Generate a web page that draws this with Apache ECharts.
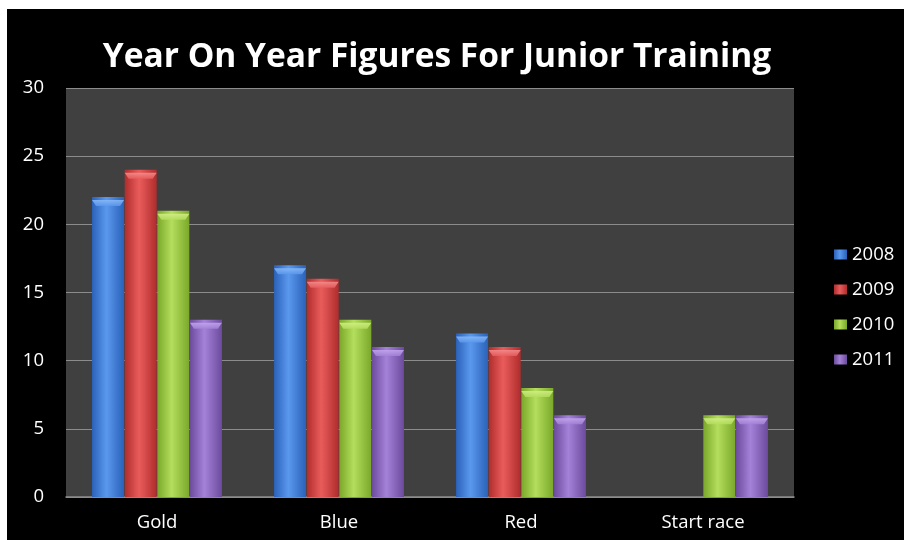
<!DOCTYPE html>
<html>
<head>
<meta charset="utf-8">
<script src="https://cdn.jsdelivr.net/npm/echarts@6/dist/echarts.min.js"></script>
<style>
html,body{margin:0;padding:0;background:#ffffff;}
#wrap{position:absolute;left:7px;top:9px;width:897px;height:531px;background:#000;}
#chart{position:absolute;left:0;top:0;width:897px;height:531px;}
</style>
</head>
<body>
<div id="wrap"><div id="chart"></div></div>
<script>
const categories = ['Gold', 'Blue', 'Red', 'Start race'];
const seriesNames = ['2008', '2009', '2010', '2011'];
const values2008 = [22, 17, 12, 0];
const values2009 = [24, 16, 11, 0];
const values2010 = [21, 13, 8, 6];
const values2011 = [13, 11, 6, 6];
const yTicks = [0, 5, 10, 15, 20, 25, 30];

const palettes = [
  ['#2a62b8', '#5a98ee', '#2a62b8', '#8cbcf8'],
  ['#b02c2c', '#ea5c5c', '#b02c2c', '#f49090'],
  ['#7aa82a', '#b4de5c', '#7aa82a', '#d4f08a'],
  ['#6c4a9c', '#a482d8', '#6c4a9c', '#c4a8ee']
];
const allValues = [values2008, values2009, values2010, values2011];

function grad(p) {
  return new echarts.graphic.LinearGradient(0, 0, 1, 0, [
    {offset: 0, color: p[0]},
    {offset: 0.45, color: p[1]},
    {offset: 1, color: p[2]}
  ]);
}
function capGrad(p) {
  return new echarts.graphic.LinearGradient(0, 0, 0, 1, [
    {offset: 0, color: p[3]},
    {offset: 1, color: p[1]}
  ]);
}

const barSeries = seriesNames.map((n, i) => ({
  name: n, type: 'bar', data: allValues[i],
  barWidth: 32, barGap: '2%',
  itemStyle: {color: grad(palettes[i])}
}));
const capSeries = seriesNames.map((n, i) => ({
  name: n, type: 'pictorialBar',
  data: allValues[i].map(v => v > 0 ? v : '-'),
  barWidth: 32, barGap: '2%',
  symbol: 'path://M0,0 L32,0 L28,6 L4,6 Z',
  symbolSize: [32, 6], symbolPosition: 'end', symbolOffset: [0, '50%'],
  itemStyle: {color: capGrad(palettes[i]), opacity: 0.85},
  z: 3, silent: true
}));

const chart = echarts.init(document.getElementById('chart'));
chart.setOption({
  backgroundColor: '#000000',
  animation: false,
  color: palettes.map(p => p[1]),
  title: {
    text: 'Year On Year Figures For Junior Training',
    left: 425, top: 26, textAlign: 'center',
    textStyle: {color: '#ffffff', fontFamily: 'Open Sans', fontWeight: 'bold', fontSize: 33.5}
  },
  legend: {
    orient: 'vertical',
    left: 822, top: 231,
    itemWidth: 13, itemHeight: 10, itemGap: 16,
    icon: 'rect',
    data: seriesNames,
    textStyle: {color: '#ffffff', fontFamily: 'Open Sans', fontSize: 18.5}
  },
  grid: {left: 59, right: 110, top: 79, bottom: 43, containLabel: false,
    show: true, backgroundColor: '#404040', borderWidth: 0},
  xAxis: {
    type: 'category', data: categories,
    axisLine: {lineStyle: {color: '#8c8c8c', width: 1.5}},
    axisTick: {show: false},
    axisLabel: {color: '#ffffff', fontFamily: 'Open Sans', fontSize: 18.5, margin: 16}
  },
  yAxis: {
    type: 'value', min: yTicks[0], max: yTicks[yTicks.length-1], interval: 5,
    axisLine: {show: false}, axisTick: {show: false},
    splitLine: {lineStyle: {color: '#8c8c8c', width: 1.2}},
    axisLabel: {color: '#ffffff', fontFamily: 'Open Sans', fontSize: 18.5, margin: 22}
  },
  series: barSeries.concat(capSeries)
});
</script>
</body>
</html>
